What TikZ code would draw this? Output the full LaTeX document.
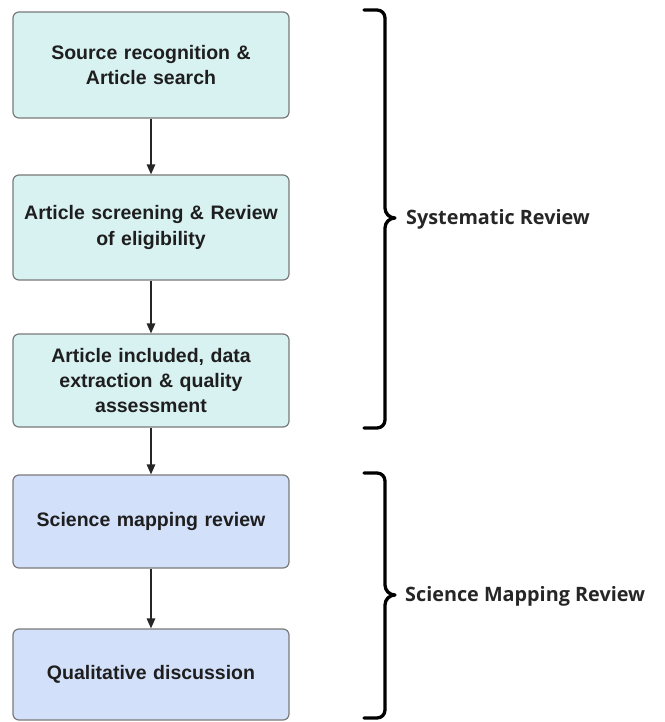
\documentclass[tikz,border=0pt]{standalone}
\usepackage{fontspec}
\setmainfont{Liberation Sans}
\newfontfamily\bracefont{Open Sans}
\usetikzlibrary{arrows.meta}
\definecolor{cyanfill}{HTML}{D8F1F1}
\definecolor{bluefill}{HTML}{D3E0F9}
\definecolor{boxline}{HTML}{7A7A7A}
\definecolor{txt}{HTML}{1E1E1E}
\tikzset{
  box/.style={draw=boxline, line width=1.2pt, rounded corners=6pt, minimum width=276pt,
    text width=262pt, align=center, font=\fontsize{19.5}{25}\selectfont\bfseries, text=txt, inner sep=0pt},
  sysbox/.style={box, fill=cyanfill},
  mapbox/.style={box, fill=bluefill},
  flow/.style={line width=1.5pt, draw=black!85, -{Triangle[length=10pt,width=8.5pt]}},
  bracepath/.style={line width=3.3pt, line cap=round, line join=round},
  bracelabel/.style={anchor=west, font=\bracefont\fontsize{19.8}{23}\selectfont\bfseries, text=black!85, inner sep=0pt}
}
\begin{document}
\begin{tikzpicture}[x=1pt,y=-1pt]
\useasboundingbox (0,0) rectangle (664,722);
\node[sysbox, minimum height=106pt] (b1) at (151,65) {Source recognition \&\\Article search};
\node[sysbox, minimum height=105pt] (b2) at (151,227.5) {Article screening \& Review\\of eligibility};
\node[sysbox, minimum height=93pt] (b3) at (151,380.5) {Article included, data\\extraction \& quality\\assessment};
\node[mapbox, minimum height=93pt] (b4) at (151,521.5) {Science mapping review};
\node[mapbox, minimum height=91pt] (b5) at (151,674.5) {Qualitative discussion};
\draw[flow] (b1) -- (b2);
\draw[flow] (b2) -- (b3);
\draw[flow] (b3) -- (b4);
\draw[flow] (b4) -- (b5);
% braces
\coordinate (t1) at (395,218);
\coordinate (t2) at (395,595);
\draw[bracepath] (364,10) -- (377,10) to[out=0,in=90] (385,18) -- (385,208)
  to[out=-90,in=180] (t1) to[out=180,in=90] (385,228) -- (385,420) to[out=-90,in=0] (377,428) -- (364,428);
\draw[bracepath] (364,473) -- (377,473) to[out=0,in=90] (385,481) -- (385,585)
  to[out=-90,in=180] (t2) to[out=180,in=90] (385,605) -- (385,710) to[out=-90,in=0] (377,718) -- (364,718);
\node[bracelabel] (l1) at (406,219) {Systematic Review};
\node[bracelabel] (l2) at (405,596) {Science Mapping Review};
\end{tikzpicture}
\end{document}
